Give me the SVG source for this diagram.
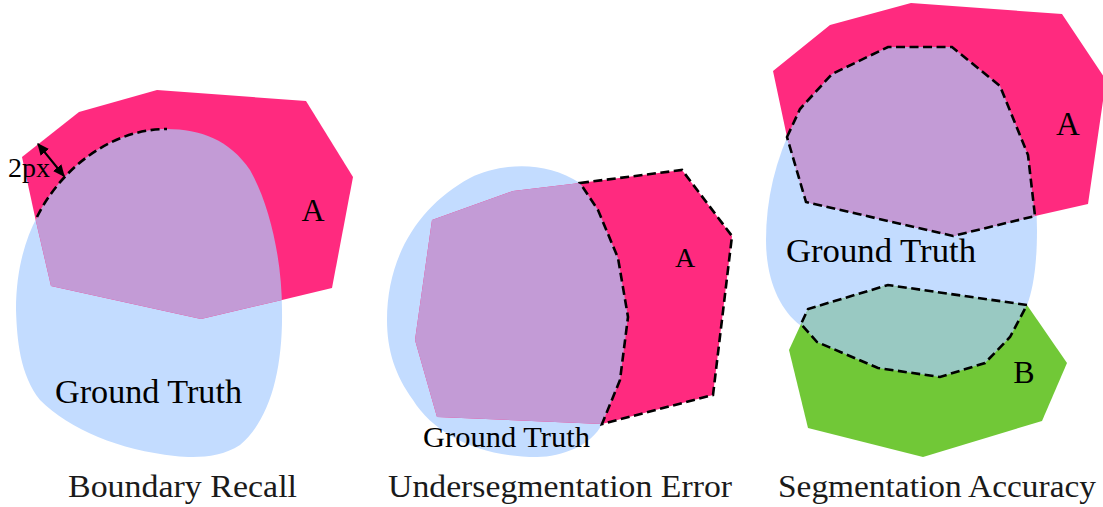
<svg xmlns="http://www.w3.org/2000/svg" width="1103" height="507" viewBox="0 0 1103 507">
<style>
.pink{fill:#ff2a7f}
.blue{fill:#c3dcff}
.purple{fill:#c39bd6}
.green{fill:#71c837}
.teal{fill:#99c9c2}
.dash{fill:none;stroke:#000;stroke-width:2.6;stroke-dasharray:9,4.5;stroke-linejoin:miter}
.lbl{fill:#000}
.cap{fill:#1a1a1a;font-size:31px}
</style>
<defs>
<clipPath id="gt1c"><path d="M167,129 C200,129 230,140 250,170 C270,205 282,260 282,310 C283,370 270,420 240,445 C220,458 195,458 175,456 C120,450 70,430 40,400 C20,375 17,340 16,310 C16,270 25,240 37,217 C60,170 110,129 167,129 Z"/></clipPath>
<clipPath id="gt2c"><path d="M580,183 L598,210 L618,258 L628,317 L620,380 L602,424 C592,445 562,457 537,457 C480,457 435,435 413,400 C395,375 387,350 387,320 C387,255 420,205 470,178 C500,163 545,160 580,183 Z"/></clipPath>
<marker id="ah" viewBox="0 0 10 10" refX="9" refY="5" markerWidth="6" markerHeight="6" orient="auto-start-reverse"><path d="M0,0.5 L10,5 L0,9.5 Z" fill="#000"/></marker>
</defs>

<g id="panel1" font-family="'Liberation Serif', 'Times New Roman', serif">
  <g id="gt1"><path class="blue" d="M167,129 C200,129 230,140 250,170 C270,205 282,260 282,310 C283,370 270,420 240,445 C220,458 195,458 175,456 C120,450 70,430 40,400 C20,375 17,340 16,310 C16,270 25,240 37,217 C60,170 110,129 167,129 Z"/></g>
  <g id="a1">
    <polygon class="pink" points="22,157 79,112 157,90 306,101 353,177 332,288 282,300 201,319 51,286 35,217"/>
    <polygon class="purple" clip-path="url(#gt1c)" points="22,157 79,112 157,90 306,101 353,177 332,288 282,300 201,319 51,286 35,217"/>
  </g>
  <text class="lbl" x="313" y="221" font-size="32" text-anchor="middle">A</text>
  <text class="lbl" x="55" y="403" font-size="33" textLength="187" lengthAdjust="spacingAndGlyphs">Ground Truth</text>
  <text class="lbl" x="8" y="177" font-size="27" textLength="42" lengthAdjust="spacingAndGlyphs">2px</text>
</g>

<g id="panel2" font-family="'Liberation Serif', 'Times New Roman', serif">
  <g id="gt2"><path class="blue" d="M580,183 L598,210 L618,258 L628,317 L620,380 L602,424 C592,445 562,457 537,457 C480,457 435,435 413,400 C395,375 387,350 387,320 C387,255 420,205 470,178 C500,163 545,160 580,183 Z"/></g>
  <g id="a2">
    <polygon class="pink" points="432,220 513,191 580,183 682,170 732,236 713,395 602,424 437,417 415,340"/>
    <polygon class="purple" clip-path="url(#gt2c)" points="432,220 513,191 580,183 682,170 732,236 713,395 602,424 437,417 415,340"/>
  </g>
  <text class="lbl" x="685" y="267" font-size="28" text-anchor="middle">A</text>
  <text class="lbl" x="423" y="447" font-size="30" textLength="167" lengthAdjust="spacingAndGlyphs">Ground Truth</text>
</g>

<g id="panel3" font-family="'Liberation Serif', 'Times New Roman', serif">
  <g id="gt3"><path class="blue" d="M922,43 C960,43 990,65 1005,95 C1025,135 1037,180 1037,230 C1037,265 1033,290 1027,305 C990,350 850,360 800,325 C780,310 766,280 766,240 C766,200 775,160 795,120 C820,70 870,43 922,43 Z"/></g>
  <g id="a3">
    <polygon class="pink" points="773,71 830,25 911,3 1062,14 1106,80 1088,204 1035,216 953,236 806,202 787,137"/>
    <polygon class="purple" points="787,137 800,109 832,74 888,47 952,47 1000,86 1028,155 1035,216 953,236 806,202"/>
  </g>
  <g id="b3">
    <polygon class="green" points="801,324 789,350 808,428 923,457 1042,421 1067,363 1027,305 888,285 808,309"/>
    <polygon class="teal" points="1027,305 888,285 808,309 801,324 817,342 878,368 940,377 985,363 1010,337"/>
  </g>
  <text class="lbl" x="1068" y="135" font-size="33" text-anchor="middle">A</text>
  <text class="lbl" x="1024" y="383" font-size="32" text-anchor="middle">B</text>
  <text class="lbl" x="786" y="262" font-size="33" textLength="190" lengthAdjust="spacingAndGlyphs">Ground Truth</text>
</g>

<g id="connectors">
  <path class="dash" d="M37,217 C60,170 110,129 167,129"/>
  <line x1="38" y1="144" x2="64" y2="176" stroke="#000" stroke-width="2" marker-start="url(#ah)" marker-end="url(#ah)"/>
  <path class="dash" d="M580,183 L682,170 L732,236 L713,395 L602,424 L620,380 L628,317 L618,258 L598,210 Z"/>
  <path class="dash" d="M787,137 L800,109 L832,74 L888,47 L952,47 L1000,86 L1028,155 L1035,216 L953,236 L806,202 Z"/>
  <path class="dash" d="M1027,305 L888,285 L808,309 L801,324 L817,342 L878,368 L940,377 L985,363 L1010,337 Z"/>
</g>

<g id="captions" font-family="'Liberation Serif', 'Times New Roman', serif">
  <text class="cap" x="68" y="497" textLength="229" lengthAdjust="spacingAndGlyphs">Boundary Recall</text>
  <text class="cap" x="388" y="497" textLength="344" lengthAdjust="spacingAndGlyphs">Undersegmentation Error</text>
  <text class="cap" x="778" y="497" textLength="318" lengthAdjust="spacingAndGlyphs">Segmentation Accuracy</text>
</g>
</svg>
